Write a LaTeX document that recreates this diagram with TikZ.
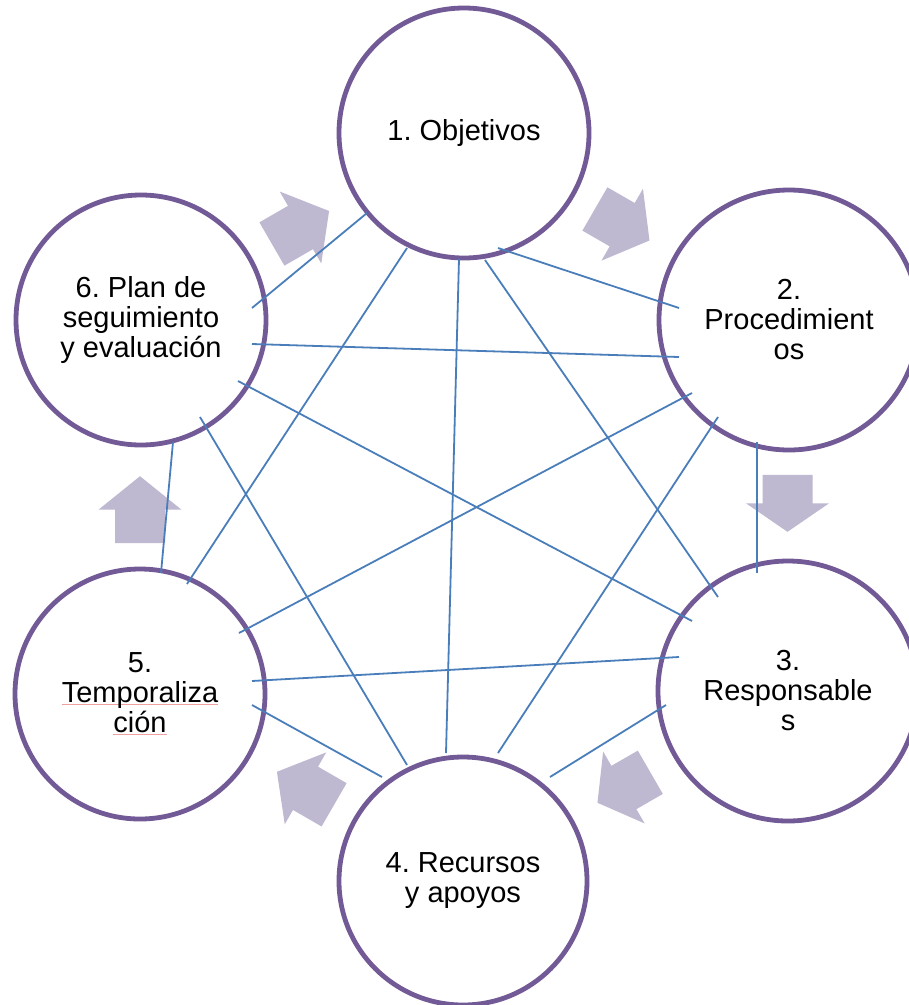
\documentclass[tikz,border=0pt]{standalone}
\usepackage{fontspec}
\setmainfont{Liberation Sans}
\frenchspacing
\definecolor{ringcol}{RGB}{114,90,150}
\definecolor{arrowfill}{RGB}{191,184,209}
\definecolor{linkcol}{RGB}{74,126,187}
\definecolor{spellcol}{RGB}{240,160,160}
\newcommand\spellul[1]{\setbox0\hbox{#1}\rlap{\textcolor{spellcol}{\rule[-2.5pt]{\wd0}{0.9pt}}}\box0}
\newcommand\blockarr[3]{%
  \fill[arrowfill, shift={(#1)}, rotate=#2]
    (-#3/2,-25) -- (0,-25) -- (0,-41.5) -- (#3/2,0) -- (0,41.5) -- (0,25) -- (-#3/2,25) -- cycle;}
\tikzset{
  stage/.style={circle, draw=ringcol, line width=4.8pt, fill=white, inner sep=0pt,
    align=center, font=\fontsize{29}{30}\selectfont, text=black},
  link/.style={draw=linkcol, line width=1.8pt}
}
\begin{document}
\begin{tikzpicture}[x=1pt, y=-1pt]
\useasboundingbox (0,0) rectangle (909,1005);
\fill[white] (0,0) rectangle (909,1005);
% circles
\node[stage, minimum size=250pt] (n1) at (464,133) {1. Objetivos};
\node[stage, minimum size=260pt] (n2) at (789,320) {2.\\Procedimient\\os};
\node[stage, minimum size=260pt] (n3) at (788,691) {3.\\Responsable\\s};
\node[stage, minimum size=248pt] (n4) at (463,881) {4. Recursos\\y apoyos};
\node[stage, minimum size=250pt] (n5) at (140,694) {5.\\\spellul{Temporaliza}\\\spellul{ción}};
\node[stage, minimum size=250pt] (n6) at (141,320) {6. Plan de\\seguimiento\\y evaluación};
% block arrows
\blockarr{622.2,224.7}{-30}{63}
\blockarr{787.5,503.3}{-90}{57}
\blockarr{623.9,787.5}{-150}{61}
\blockarr{305.5,788.3}{150}{66}
\blockarr{140,509.7}{90}{67}
\blockarr{300.5,227.5}{30}{66}
% connector end points
\coordinate (a12) at (498,248); \coordinate (b12) at (679,308);
\coordinate (a13) at (485,260); \coordinate (b13) at (718,597);
\coordinate (a14) at (459,259); \coordinate (b14) at (446,753);
\coordinate (a15) at (407,248); \coordinate (b15) at (187,584);
\coordinate (a16) at (367,213); \coordinate (b16) at (252,308);
\coordinate (a23) at (757,442); \coordinate (b23) at (757,573);
\coordinate (a24) at (718,417); \coordinate (b24) at (498,753);
\coordinate (a25) at (692,393); \coordinate (b25) at (239,633);
\coordinate (a26) at (679,357); \coordinate (b26) at (252,344);
\coordinate (a34) at (666,705); \coordinate (b34) at (550,777);
\coordinate (a35) at (679,657); \coordinate (b35) at (252,681);
\coordinate (a36) at (692,621); \coordinate (b36) at (238,381);
\coordinate (a45) at (382,777); \coordinate (b45) at (252,705);
\coordinate (a46) at (407,765); \coordinate (b46) at (200,417);
\coordinate (a56) at (161,573); \coordinate (b56) at (173,442);
% connectors
\foreach \p in {12,13,14,15,16,23,24,25,26,34,35,36,45,46,56}
  \draw[link] (a\p) -- (b\p);
\end{tikzpicture}
\end{document}
